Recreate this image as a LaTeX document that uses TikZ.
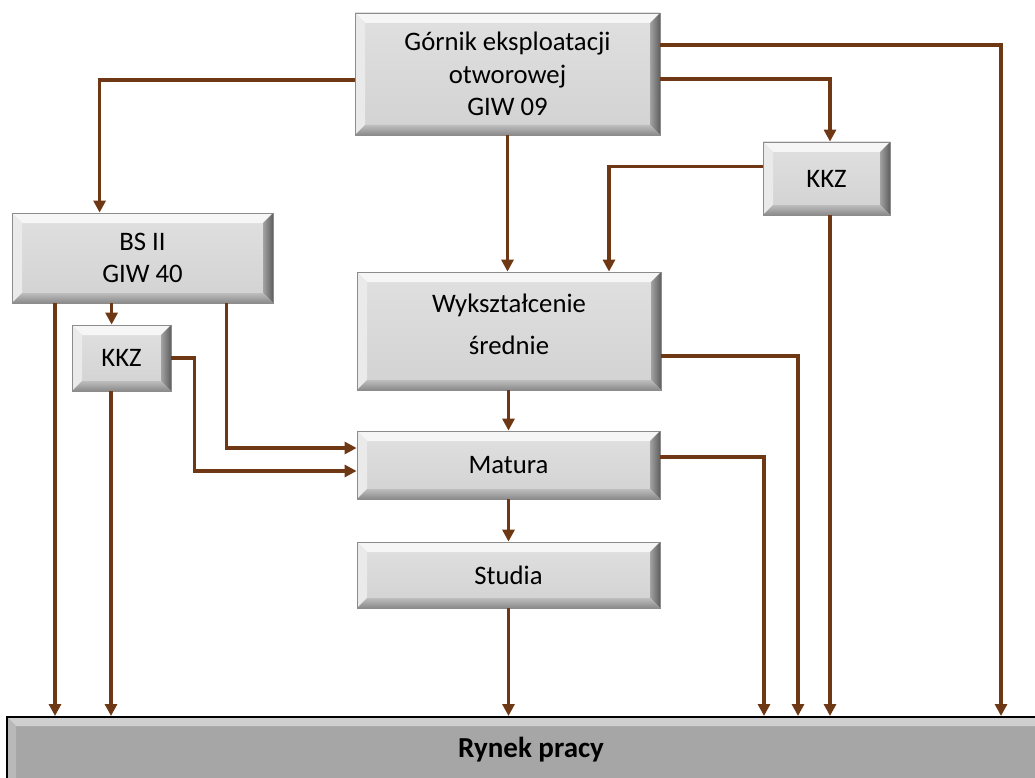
\documentclass[tikz,border=0pt]{standalone}
\usepackage{fontspec}
\setmainfont{Carlito}
\usetikzlibrary{arrows.meta,calc}
\definecolor{face}{HTML}{D9D9D9}
\definecolor{facetop}{HTML}{E0E0E0}
\definecolor{facebot}{HTML}{D2D2D2}
\definecolor{btop}{HTML}{F6F6F6}
\definecolor{bleft}{HTML}{EAEAEA}
\definecolor{brightin}{HTML}{A3A3A3}
\definecolor{brightout}{HTML}{5E5E5E}
\definecolor{bbotin}{HTML}{BDBDBD}
\definecolor{bbotout}{HTML}{8A8A8A}
\definecolor{edge}{HTML}{8C8C8C}
\definecolor{conc}{HTML}{6E3815}
\definecolor{ryface}{HTML}{A6A6A6}
\definecolor{rytop}{HTML}{CFCFCF}
\tikzset{
  bevelbox/.style={draw=edge, line width=0.8pt, top color=facetop, bottom color=facebot,
    align=center, inner sep=0pt, font=\fontsize{26.7}{32.5}\selectfont,
    path picture={
      \path (path picture bounding box.north west) coordinate (pNW)
            (path picture bounding box.north east) coordinate (pNE)
            (path picture bounding box.south west) coordinate (pSW)
            (path picture bounding box.south east) coordinate (pSE);
      \fill[btop] (pNW) -- (pNE) -- ([xshift=-10pt,yshift=-10pt]pNE) -- ([xshift=10pt,yshift=-10pt]pNW) -- cycle;
      \fill[bleft] (pNW) -- ([xshift=10pt,yshift=-10pt]pNW) -- ([xshift=10pt,yshift=10pt]pSW) -- (pSW) -- cycle;
      \shade[left color=brightin, right color=brightout] (pNE) -- (pSE) -- ([xshift=-10pt,yshift=10pt]pSE) -- ([xshift=-10pt,yshift=-10pt]pNE) -- cycle;
      \shade[top color=bbotin, bottom color=bbotout] (pSW) -- (pSE) -- ([xshift=-10pt,yshift=10pt]pSE) -- ([xshift=10pt,yshift=10pt]pSW) -- cycle;
    }},
  rynekbox/.style={draw=black, line width=2pt, fill=ryface, inner sep=0pt,
    font=\fontsize{29}{35}\selectfont\bfseries,
    path picture={
      \path (path picture bounding box.north west) coordinate (qNW)
            (path picture bounding box.north east) coordinate (qNE)
            (path picture bounding box.south west) coordinate (qSW);
      \fill[rytop] (qNW) -- (qNE) -- ([xshift=-9pt,yshift=-9pt]qNE) -- ([xshift=9pt,yshift=-9pt]qNW) -- cycle;
      \fill[gray!55] (qNW) -- ([xshift=9pt,yshift=-9pt]qNW) -- ([xshift=9pt]qSW) -- (qSW) -- cycle;
    }},
  conn/.style={draw=conc, line width=3.6pt, -{Triangle[length=12pt,width=12pt]}}
}
\begin{document}
\begin{tikzpicture}[x=1pt,y=-1pt]
\useasboundingbox (0,0) rectangle (1035,778);

\node[bevelbox, minimum width=305pt, minimum height=122pt] (gornik) at (507.5,74) {Górnik eksploatacji\\otworowej\\GIW 09};
\node[bevelbox, minimum width=127pt, minimum height=73pt] (kkzr) at (826.5,178.5) {KKZ};
\node[bevelbox, minimum width=261pt, minimum height=90pt] (bs) at (142.5,258) {BS II\\GIW 40};
\node[bevelbox, minimum width=99pt, minimum height=66pt] (kkzl) at (121.5,358) {KKZ};
\node[bevelbox, minimum width=304pt, minimum height=118pt,
  label={[name=wyktext, align=center, inner sep=0pt, font=\fontsize{26.7}{42}\selectfont, yshift=7pt]center:Wykształcenie\\średnie}] (wyk) at (509,331) {};
\node[bevelbox, minimum width=303pt, minimum height=68pt] (matura) at (508.5,465) {Matura};
\node[bevelbox, minimum width=303pt, minimum height=66pt] (studia) at (508.5,575) {Studia};
\node[rynekbox, minimum width=1048pt, minimum height=66pt] (rynek) at (531,750) {Rynek pracy};

\coordinate (rA) at ($(rynek.north west)+(49,0)$);
\coordinate (rB) at ($(rynek.north west)+(105,0)$);
\coordinate (rD) at ($(rynek.north west)+(758,0)$);
\coordinate (rE) at ($(rynek.north west)+(792,0)$);
\coordinate (rF) at ($(rynek.north west)+(824,0)$);
\coordinate (rG) at ($(rynek.north west)+(995,0)$);
\coordinate (kk) at ($(kkzl.north west)+(40,0)$);

% from Gornik
\draw[conn] ($(gornik.west)+(0,6)$) -| ($(bs.north west)+(88,0)$);
\draw[conn] (gornik.south) -- (gornik.south |- wyk.north);
\draw[conn] ($(gornik.east)+(0,-29)$) -| (rG);
\draw[conn] ($(gornik.east)+(0,5)$) -| (kkzr.north -| rF);
% from KKZ right
\draw[conn] ($(kkzr.west)+(0,-12)$) -| ($(wyk.north)+(100,0)$);
\draw[conn] (kkzr.south -| rF) -- (rF);
% from BS II
\draw[conn] (bs.south -| rA) -- (rA);
\draw[conn] (bs.south -| kk) -- (kk);
\draw[conn] ($(bs.south west)+(215,0)$) |- ($(matura.west)+(0,-17)$);
% from KKZ left
\draw[conn] (kkzl.east) -- ++(23,0) |- ($(matura.west)+(0,6)$);
\draw[conn] (kkzl.south -| rB) -- (rB);
% from Wyksztalcenie
\draw[conn] ($(wyk.east)+(0,25)$) -| (rE);
\draw[conn] (wyk.south -| matura.north) -- (matura.north);
% from Matura
\draw[conn] ($(matura.east)+(0,-8)$) -| (rD);
\draw[conn] (matura.south) -- (studia.north);
% from Studia
\draw[conn] (studia.south) -- (studia.south |- rynek.north);
\end{tikzpicture}
\end{document}
